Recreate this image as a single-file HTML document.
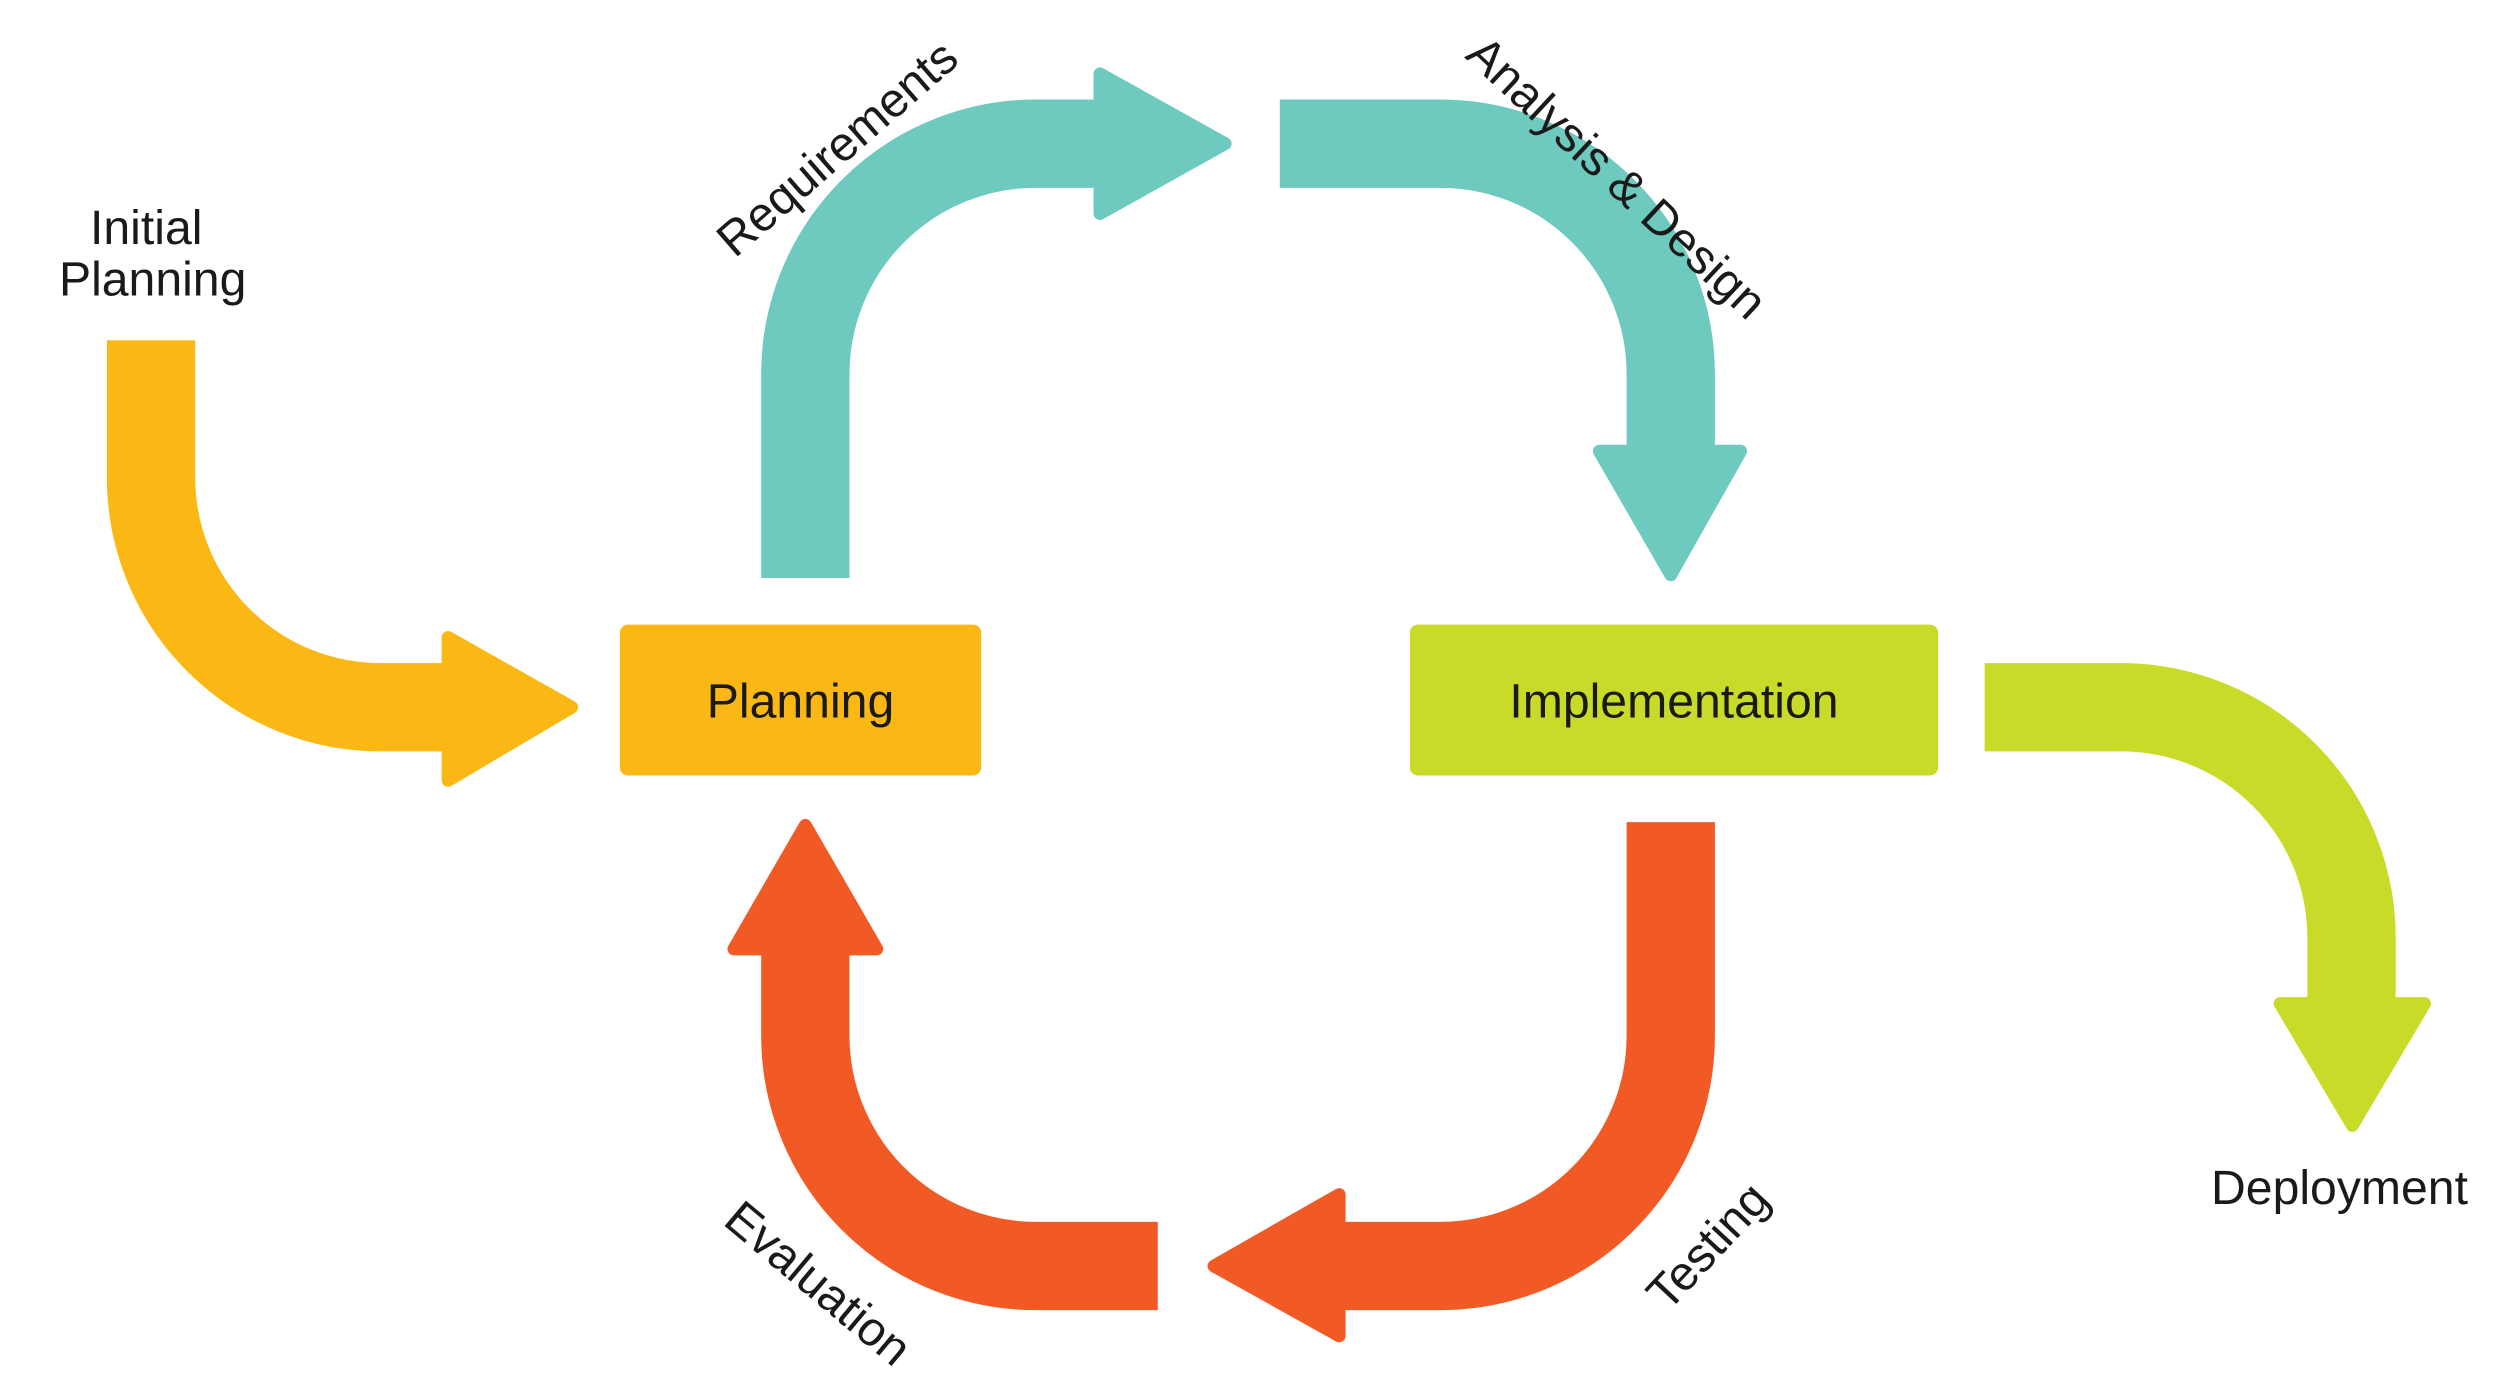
<!DOCTYPE html>
<html><head><meta charset="utf-8"><style>
html,body{margin:0;padding:0;background:#fff;}
svg{display:block;}
text{font-family:"Liberation Sans",sans-serif;fill:#1a1a1a;font-size:30px;}
</style></head><body>
<svg width="2505" height="1376" viewBox="0 0 1560 857" xmlns="http://www.w3.org/2000/svg">
<g fill="none" stroke-width="55" stroke-linecap="butt">
<!-- yellow -->
<path d="M94 212 V297 A143 143 0 0 0 237 440.5 H280" stroke="#FBB714"/>
<!-- teal left -->
<path d="M501.5 360 V233 A143.5 143.5 0 0 1 645 89.5 H686" stroke="#6EC9BF"/>
<!-- teal right -->
<path d="M797 89.5 H897 A143.5 143.5 0 0 1 1040.5 233 V278" stroke="#6EC9BF"/>
<!-- green -->
<path d="M1236 440.5 H1321 A143.5 143.5 0 0 1 1464.5 584 V623" stroke="#C9DB29"/>
<!-- red right -->
<path d="M1040.5 512 V645 A143.5 143.5 0 0 1 897 788.5 H837" stroke="#F15A24"/>
<!-- red left -->
<path d="M721 788.5 H645 A143.5 143.5 0 0 1 501.5 645 V594" stroke="#F15A24"/>
</g>
<g stroke-width="8" stroke-linejoin="round">
<polygon points="279,397 356,440.5 279,486" fill="#FBB714" stroke="#FBB714"/>
<polygon points="685,46 763,89.5 685,133" fill="#6EC9BF" stroke="#6EC9BF"/>
<polygon points="996,281 1084,281 1040.5,358" fill="#6EC9BF" stroke="#6EC9BF"/>
<polygon points="1420,625 1510,625 1465,701" fill="#C9DB29" stroke="#C9DB29"/>
<polygon points="834,744 756,788.5 834,832" fill="#F15A24" stroke="#F15A24"/>
<polygon points="457,591 546,591 501.5,514" fill="#F15A24" stroke="#F15A24"/>
</g>
<rect x="386" y="389" width="225" height="94" rx="5" fill="#FBB714"/>
<rect x="878" y="389" width="329" height="94" rx="5" fill="#C9DB29"/>
<text x="498.5" y="447" text-anchor="middle">Planning</text>
<text x="1042.5" y="447" text-anchor="middle">Implementation</text>
<text x="91" y="152" text-anchor="middle">Initial</text>
<text x="95" y="184" text-anchor="middle">Planning</text>
<text x="1457" y="750" text-anchor="middle">Deployment</text>
<text transform="translate(528,100) rotate(-41)" text-anchor="middle">Requirements</text>
<text transform="translate(1000,118) rotate(43)" text-anchor="middle">Analysis &amp; Design</text>
<text transform="translate(1071,783) rotate(-47)" text-anchor="middle">Testing</text>
<text transform="translate(503,807) rotate(40)" text-anchor="middle">Evaluation</text>
</svg>
</body></html>
